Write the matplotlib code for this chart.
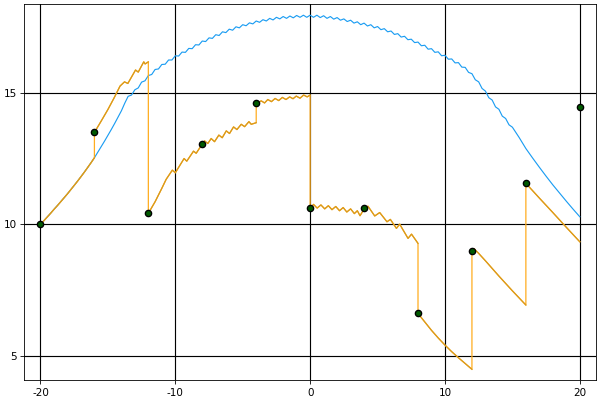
import numpy as np
import matplotlib
matplotlib.use("Agg")
import matplotlib.pyplot as plt

plt.rcParams['axes.unicode_minus'] = False

# exact (blue) curve
blue_left_x = [-20, -19.5, -19, -18.5, -18, -17.5, -17, -16.5, -16, -15.75, -15.5,
               -15.25, -15, -14.75, -14.5, -14.25, -14, -13.75]
blue_left_y = [10.0, 10.28, 10.57, 10.86, 11.16, 11.48, 11.81, 12.16, 12.53, 12.74, 12.95,
               13.16, 13.38, 13.6, 13.83, 14.07, 14.31, 14.6]
# wiggly middle part, sampled every 0.25 from -13.5 to 15
blue_mid_x = np.arange(-13.5, 15.01, 0.25)
blue_mid_y = [14.86, 14.91, 15.11, 15.18, 15.40, 15.45, 15.65, 15.69, 15.88, 15.90,
              16.07, 16.08, 16.24, 16.24, 16.40, 16.39, 16.54, 16.53, 16.68, 16.67,
              16.82, 16.81, 16.96, 16.94, 17.08, 17.06, 17.20, 17.17, 17.31, 17.28,
              17.41, 17.37, 17.50, 17.46, 17.58, 17.54, 17.65, 17.61, 17.72, 17.67,
              17.77, 17.72, 17.82, 17.76, 17.86, 17.80, 17.89, 17.82, 17.91, 17.84,
              17.93, 17.86, 17.94, 17.86, 17.94, 17.86, 17.94, 17.85, 17.92, 17.82,
              17.89, 17.79, 17.85, 17.75, 17.80, 17.70, 17.75, 17.64, 17.69, 17.58,
              17.64, 17.53, 17.58, 17.46, 17.51, 17.39, 17.43, 17.31, 17.34, 17.21,
              17.24, 17.11, 17.14, 17.01, 17.03, 16.90, 16.92, 16.78, 16.80, 16.65,
              16.67, 16.53, 16.55, 16.40, 16.42, 16.27, 16.28, 16.13, 16.14, 15.97,
              15.96, 15.77, 15.72, 15.49, 15.41, 15.16, 15.06, 14.81, 14.72, 14.46,
              14.37, 14.11, 14.02, 13.78, 13.69]
blue_right_x = [15.5, 16, 16.5, 17, 17.5, 18, 18.5, 19, 19.5, 20]
blue_right_y = [13.3, 12.88, 12.52, 12.17, 11.83, 11.5, 11.19, 10.88, 10.58, 10.29]

# restarted (orange) segments
seg_x = [
    [-20, -19.75, -19.5, -19.25, -19, -18.75, -18.5, -18.25, -18, -17.75, -17.5,
     -17.25, -17, -16.75, -16.5, -16.25, -16],
    [-16, -15.5, -15, -14.5, -14.1, -13.77, -13.52, -12.95, -12.75, -12.34, -12.24, -12.0],
    [-12, -11.5, -11, -10.68, -10.22, -10.0, -9.35, -9.15, -8.65, -8.45, -8.0],
    [-8.0, -7.83, -7.59, -7.34, -7.09, -6.77, -6.52, -6.22, -5.98, -5.68, -5.43,
     -5.11, -4.86, -4.54, -4.37, -4.0],
    [-4.0, -3.85, -3.63, -3.38, -3.14, -2.87, -2.6, -2.33, -2.06, -1.79, -1.52,
     -1.27, -1.03, -0.75, -0.48, -0.22, 0.0],
    [0, 0.25, 0.52, 0.8, 1.08, 1.35, 1.62, 1.9, 2.18, 2.45, 2.72, 3.0, 3.28, 3.5, 3.7, 4.0],
    [4.0, 4.29, 4.79, 5.16, 5.7, 5.95, 6.4, 6.64, 7.26, 7.52, 8.0],
    [8, 8.5, 9, 9.5, 10, 10.5, 11, 11.5, 12],
    [12, 12.15, 12.5, 13, 13.5, 14, 14.5, 15, 15.5, 16],
    [16, 17, 18, 19, 20],
]
seg_y = [
    [10.0, 10.14, 10.28, 10.42, 10.57, 10.71, 10.86, 11.01, 11.16, 11.32, 11.48,
     11.64, 11.81, 11.98, 12.16, 12.34, 12.53],
    [13.49, 13.92, 14.36, 14.84, 15.25, 15.41, 15.35, 15.86, 15.78, 16.17, 16.09, 16.17],
    [10.42, 10.86, 11.37, 11.71, 12.06, 11.96, 12.5, 12.4, 12.78, 12.7, 13.05],
    [13.05, 13.17, 13.07, 13.26, 13.14, 13.39, 13.29, 13.55, 13.45, 13.7, 13.6,
     13.8, 13.71, 13.9, 13.8, 13.86],
    [14.59, 14.62, 14.69, 14.61, 14.74, 14.66, 14.78, 14.7, 14.82, 14.74, 14.84,
     14.77, 14.87, 14.79, 14.91, 14.84, 14.91],
    [10.61, 10.76, 10.62, 10.74, 10.59, 10.71, 10.56, 10.68, 10.52, 10.64, 10.47,
     10.59, 10.41, 10.52, 10.33, 10.58],
    [10.61, 10.69, 10.32, 10.45, 10.1, 10.19, 9.85, 10.01, 9.47, 9.63, 9.28],
    [6.62, 6.3, 5.98, 5.69, 5.42, 5.17, 4.94, 4.72, 4.5],
    [9.0, 9.08, 8.9, 8.62, 8.33, 8.04, 7.76, 7.48, 7.21, 6.94],
    [11.56, 11.0, 10.45, 9.89, 9.34],
]

# restart points
dot_x = [-20, -16, -12, -8, -4, 0, 4, 8, 12, 16, 20]
dot_y = [10.0, 13.49, 10.42, 13.05, 14.59, 10.61, 10.61, 6.62, 8.99, 11.56, 14.44]

fig = plt.figure(figsize=(8, 16 / 3), dpi=75)
ax = fig.add_axes([0.0405, 0.049, 0.9528, 0.94])

bx = np.concatenate([blue_left_x, blue_mid_x, blue_right_x])
by = np.concatenate([blue_left_y, blue_mid_y, blue_right_y])
ax.plot(bx, by, color='#1a9cf2', lw=1.1, zorder=3)

# whole piecewise path, jumps included
px = np.concatenate(seg_x)
py = np.concatenate(seg_y)
ax.plot(px, py, color='#ffad1f', lw=1.2, zorder=4)
for sx, sy in zip(seg_x, seg_y):
    ax.plot(sx, sy, color='#d99a1c', lw=1.2, zorder=5)

ax.plot(dot_x, dot_y, 'o', color='#005a00', mec='black', mew=1.3, ms=6, zorder=6)

ax.set_xlim(-21.2, 21.2)
ax.set_ylim(4.08, 18.35)
ax.set_xticks([-20, -10, 0, 10, 20])
ax.set_yticks([5, 10, 15])
ax.grid(True, color='black', lw=1.1)
ax.set_axisbelow(True)

fig.savefig('out.png', dpi=75)
